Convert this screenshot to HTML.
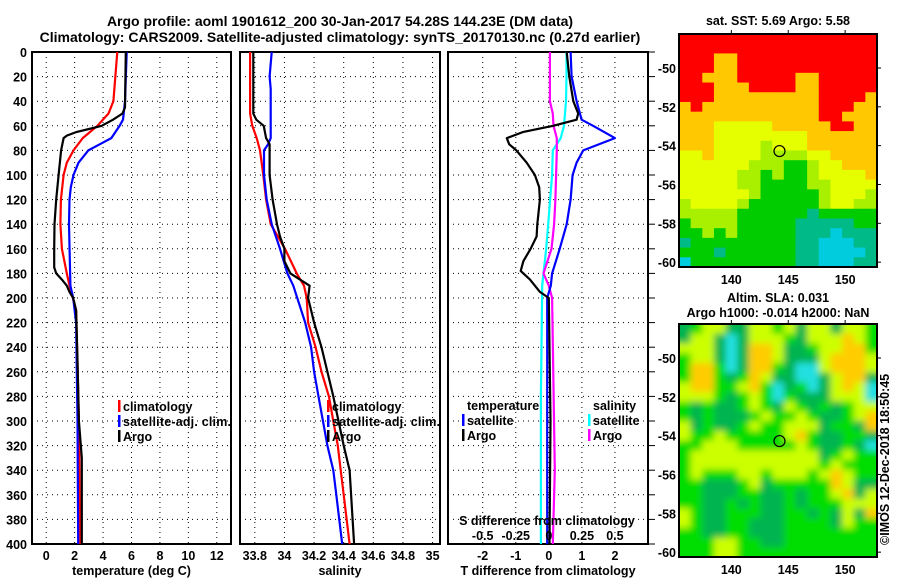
<!DOCTYPE html>
<html><head><meta charset="utf-8">
<style>
html,body{margin:0;padding:0;background:#fff;}
svg{display:block;font-family:"Liberation Sans",Arial,sans-serif;font-weight:bold;}
text{font-size:12.5px;fill:#000;}
.t{font-size:14px;}
.g{stroke:#000;stroke-width:1;stroke-dasharray:1,4;}
</style></head>
<body>
<svg id="chart" width="900" height="580" viewBox="0 0 900 580" xmlns="http://www.w3.org/2000/svg">
<defs>
<filter id="blur" x="-5%" y="-5%" width="110%" height="110%"><feGaussianBlur stdDeviation="3.5"/></filter>
<clipPath id="slaclip"><rect x="679" y="324" width="198" height="233"/></clipPath>
</defs>
<text class="t" x="340" y="26" text-anchor="middle">Argo profile: aoml 1901612_200 30-Jan-2017 54.28S 144.23E (DM data)</text>
<text class="t" x="340" y="42" text-anchor="middle">Climatology: CARS2009. Satellite-adjusted climatology: synTS_20170130.nc (0.27d earlier)</text>
<g id="p1"></g>
<g id="p2"></g>
<g id="p3"></g>
<g id="m1"></g>
<g id="m2"></g>
<text x="889" y="545" transform="rotate(-90 889 545)">©IMOS 12-Dec-2018 18:50:45</text>
</svg>
<script>
// ---- profile data (depth in m) ----
const tClimD=[0,40,50,60,70,80,90,100,120,140,160,180,190,210,300,400];
const tClimV=[5.0,4.73,4.38,3.6,2.57,1.92,1.45,1.22,1.03,1.0,1.1,1.45,1.64,2.1,2.3,2.4];
const tSatD=[0,40,55,60,70,75,80,90,100,110,120,140,190,200,220,300,400];
const tSatV=[5.66,5.54,5.4,5.16,4.58,3.76,2.96,2.27,1.92,1.73,1.64,1.6,1.7,1.9,2.1,2.2,2.25];
const tArgoD=[0,45,50,55,60,63,65,68,70,80,100,120,140,160,175,180,185,190,195,200,210,250,300,330,400];
const tArgoV=[5.6,5.54,5.37,4.7,3.9,2.86,2.15,1.45,1.22,1.05,0.87,0.7,0.58,0.56,0.56,0.7,1.1,1.45,1.64,1.9,2.1,2.2,2.3,2.5,2.5];
const sClimD=[0,50,60,70,80,100,120,140,160,180,190,200,220,240,260,280,300,320,340,360,400];
const sClimV=[33.768,33.768,33.783,33.813,33.835,33.857,33.876,33.907,34.004,34.083,34.132,34.15,34.16,34.21,34.25,34.30,34.33,34.36,34.38,34.40,34.44];
const sSatD=[0,20,30,70,75,80,100,120,140,160,180,190,220,240,260,280,320,340,360,400];
const sSatV=[33.914,33.9,33.907,33.907,33.89,33.862,33.862,33.88,33.914,33.97,34.02,34.06,34.14,34.18,34.2,34.23,34.29,34.33,34.35,34.39];
const sArgoD=[0,50,55,60,70,75,100,120,140,150,160,170,180,190,200,220,240,260,280,320,340,360,400];
const sArgoV=[33.79,33.79,33.81,33.86,33.876,33.9,33.9,33.92,33.95,33.97,34.0,34.0,34.04,34.17,34.16,34.2,34.25,34.29,34.33,34.40,34.44,34.45,34.47];
const dTsatD=[0,20,40,55,60,70,80,90,100,120,140,160,180,190,200,400];
const dTsatV=[0.66,0.69,0.84,0.99,1.34,2.0,1.04,0.84,0.72,0.66,0.54,0.33,0.1,0.06,-0.05,-0.05];
const dTargoD=[0,20,40,50,55,60,65,70,75,80,90,100,110,120,140,150,160,170,178,185,195,200,300,400];
const dTargoV=[0.54,0.62,0.74,0.89,0.84,0.13,-0.77,-1.27,-1.2,-0.98,-0.67,-0.42,-0.29,-0.27,-0.35,-0.37,-0.55,-0.77,-0.85,-0.57,-0.27,0.0,0.05,0.02];
const dSargoD=[0,40,50,60,70,80,100,120,140,160,180,190,200,340,400];
const dSargoV=[0.008,0.008,0.03,0.035,0.06,0.06,0.055,0.05,0.04,0.02,-0.04,0.0,0.025,0.045,0.03];
const dSsatD=[0,20,40,60,70,80,100,120,140,160,180,190,280,400];
const dSsatV=[0.134,0.134,0.13,0.115,0.09,0.03,0.025,0.01,-0.005,-0.02,-0.04,-0.05,-0.06,-0.06];
const depthTicks=[0,20,40,60,80,100,120,140,160,180,200,220,240,260,280,300,320,340,360,380,400];
const tTicks=[0,2,4,6,8,10,12];
const sTicks=[33.8,34,34.2,34.4,34.6,34.8,35];
const dTicks=[-2,-1,0,1,2];
const dSTickLabels=["-0.5","-0.25","0","0.25","0.5"];
// ---- map data ----
const latTicks=[-50,-52,-54,-56,-58,-60];
const lonTicks=[140,145,150];
const argoLon=144.23, argoLat=-54.28;
const sstGrid=[
"RRRRRRRRRRRRRRRRR","RRRRRRRRRRRRRRRRR","RRROORRRRRRRRRRRR","RRROORRRRRRRRRRRR",
"RROOORRRRROORRRRR","RRROOORRRROORRRRR","RRROOOOOOOOORRRRO","OROOOOOOOOOORRROO",
"OOOOOOOOOOOORROOO","OOOYYYYYOOOOORROO","OOOYYYYYYYYOOOOOO","OOOYYYYLYYYOOOOOO",
"YYOYYYYLLLLYYOOOO","YYYYYYLLLGGLYYOOO","YYYYYLLGLGGLYYYYO","YYYYYLLGGGGLLYYYY",
"YYYYYYLGGGGGLYYYL","LYYYYLGGGGGGLYYLL","LLLLLGGGGGGTGGGGG","GLLLLGGGGGTTTTTGG",
"GGLGLGGGGGTTTCTTT","TGGGGGGGGGTTCCCTT","GGGTGGGGGGTTCCCCT","CGGGGGGGGGTTCCCTT"];
const slaGrid=[
"DGYYDDYYGYDYYDYYG","DYYDCDYYYGDYYYOYG","YYYDCDOOYDDGYYOOG","GYYDCDOOYDDDYOOOY",
"GOOGCDOOGDCCYOOOY","GOOGDGOYDDCCDYOOD","YOOGGYOGCDGCDYOYC","YYYGDGYGCGDDDYYYC",
"GDGDDGYGDYGDGDGYY","GDGDDDGYGGYGDDGYO","YDGDDGYGGYYYDGGDO","YGGYGGGGGYOGDDGGD",
"GGYYYGGGGGYGDDGDC","GYYYYYYYYYYYDGYGG","GYYYYYYYYYYYGYGGG","GYGGGYYGYYYGYOYGG",
"GGDDDGYDGGGGGOYDD","GGDDDGGDDGDGGYODY","GGDDGDGDDGDGGGYYY","YGDDGGGDDGGDGDYDO",
"YGDDGGDDDGGGGDYGG","GGDDGGDDDGGGGGGGG","GGGYYGGDDGGGGGGGG","GGGYYGGGGGGGGGGGG"];
const sstColors={R:"#ff0000",O:"#ffc800",Y:"#e6ff00",L:"#a8f000",G:"#00cc00",T:"#00bb88",C:"#00ccdd"};
const slaColors={G:"#00dd00",D:"#00b450",C:"#20e0e0",Y:"#ccff00",O:"#ffcc00"};

const NS="http://www.w3.org/2000/svg";
function mk(parent,tag,attrs,txt){const e=document.createElementNS(NS,tag);for(const k in attrs)e.setAttribute(k,attrs[k]);if(txt!==undefined)e.textContent=txt;parent.appendChild(e);return e;}
const Y0=52,Y1=544;
const yD=d=>Y0+d*(Y1-Y0)/400;

function panel(g,x0,x1,xmin,xmax,ticks,tickLabels,xlabel,showY,rightTicks){
  const xs=v=>x0+(v-xmin)*(x1-x0)/(xmax-xmin);
  depthTicks.forEach(d=>{
    if(d>0&&d<400){const l=mk(g,'line',{x1:x0,x2:x1,y1:yD(d),y2:yD(d),class:'g'});
    
    }
    if(showY){const t=mk(g,'text',{x:x0-5,y:yD(d)+5,'text-anchor':'end'},d);
    
    }
    if(rightTicks){const l2=mk(g,'line',{x1:x1,x2:x1+7,y1:yD(d),y2:yD(d),stroke:'#000','stroke-width':1});
    
    }
  });
  ticks.forEach((v,i)=>{
    const l=mk(g,'line',{x1:xs(v),x2:xs(v),y1:Y0,y2:Y1,class:'g'});
    
    
    const t=mk(g,'text',{x:xs(v),y:Y1+16,'text-anchor':'middle'},tickLabels[i]);
    
    
  });
  const r=mk(g,'rect',{x:x0,y:Y0,width:x1-x0,height:Y1-Y0,fill:'none',stroke:'#000','stroke-width':2});
  
  
  const xl=mk(g,'text',{x:(x0+x1)/2,y:575,'text-anchor':'middle'},xlabel);
  
  
  return xs;
}
function line(g,xs,D,V,color,name,scale){
  const pts=D.map((d,i)=>xs(V[i]*(scale||1)).toFixed(1)+','+yD(d).toFixed(1)).join(' ');
  const p=mk(g,'polyline',{points:pts,fill:'none',stroke:color,'stroke-width':2.2,'stroke-linejoin':'round'});
  
  
}
function legend(g,x,y,items){
  items.forEach((it,i)=>{
    if(it[1]){const b=mk(g,'rect',{x:x,y:y+i*15-11,width:2.5,height:12,fill:it[1]});
    
    }
    const t=mk(g,'text',{x:x+5,y:y+i*15,textLength:it[2]||null},it[0]);
    if(!it[2])t.removeAttribute('textLength');
    
    
  });
}
const p1=document.getElementById('p1'),p2=document.getElementById('p2'),p3=document.getElementById('p3');
const x1s=panel(p1,32,231,-1,13,tTicks,tTicks,'temperature (deg C)',true,false);
line(p1,x1s,tClimD,tClimV,'#f00','climatology-temperature-line');
line(p1,x1s,tSatD,tSatV,'#00f','satellite-temperature-line');
line(p1,x1s,tArgoD,tArgoV,'#000','argo-temperature-line');
legend(p1,118,411,[['climatology','#f00'],['satellite-adj. clim.','#00f',108],['Argo','#000']]);
const x2s=panel(p2,240,440,33.7,35.05,sTicks,sTicks,'salinity',false,false);
line(p2,x2s,sClimD,sClimV,'#f00','climatology-salinity-line');
line(p2,x2s,sSatD,sSatV,'#00f','satellite-salinity-line');
line(p2,x2s,sArgoD,sArgoV,'#000','argo-salinity-line');
legend(p2,327,411,[['climatology','#f00'],['satellite-adj. clim.','#00f',108],['Argo','#000']]);
const x3s=panel(p3,448,648,-3.05,3,dTicks,dTicks,'T difference from climatology',false,true);
line(p3,x3s,dSsatD,dSsatV,'#0ff','satellite-salinity-diff-line',4);
line(p3,x3s,dSargoD,dSargoV,'#f0f','argo-salinity-diff-line',4);
line(p3,x3s,dTsatD,dTsatV,'#00f','satellite-temperature-diff-line');
line(p3,x3s,dTargoD,dTargoV,'#000','argo-temperature-diff-line');
legend(p3,462,410,[['temperature',null],['satellite','#00f'],['Argo','#000']]);
legend(p3,588,410,[['salinity',null],['satellite','#0ff'],['Argo','#f0f']]);
const sdt=mk(p3,'text',{x:547,y:525,'text-anchor':'middle'},'S difference from climatology');


dTicks.forEach((v,i)=>{const t=mk(p3,'text',{x:x3s(v),y:540,'text-anchor':'middle'},dSTickLabels[i]);

});

function map(g,top,grid,colors,titles,name,smooth){
  const L=679,R=877,B=top+233,lonMin=135.4,lonMax=152.8,latTop=-48.25,latBot=-60.25;
  const xs=lo=>L+(lo-lonMin)*(R-L)/(lonMax-lonMin);
  const ys=la=>top+(latTop-la)*(B-top)/(latTop-latBot);
  const rows=grid.length,cols=grid[0].length,cw=(R-L)/cols,ch=(B-top)/rows;
  let cg=g;
  if(smooth){const outer=mk(g,'g',{'clip-path':'url(#slaclip)'});cg=mk(outer,'g',{filter:'url(#blur)'});}
  grid.forEach((row,r)=>{for(let c=0;c<cols;c++){
    const ext=smooth?6:0;
    const x=L+c*cw-(c===0?ext:0), y=top+r*ch-(r===0?ext:0);
    const w=cw+0.6+(c===0?ext:0)+(c===cols-1?ext:0), h=ch+0.6+(r===0?ext:0)+(r===rows-1?ext:0);
    const cell=mk(cg,'rect',{x:x.toFixed(2),y:y.toFixed(2),width:w.toFixed(2),height:h.toFixed(2),fill:colors[row[c]]});
    
    
  }});
  const fr=mk(g,'rect',{x:L,y:top,width:R-L,height:B-top,fill:'none',stroke:'#000','stroke-width':2});
  
  
  latTicks.forEach(la=>{
    mk(g,'line',{x1:R,x2:R+4,y1:ys(la),y2:ys(la),stroke:'#000'});
    const t=mk(g,'text',{x:L-3,y:ys(la)+5,'text-anchor':'end'},la);
    
    
  });
  lonTicks.forEach(lo=>{
    mk(g,'line',{x1:xs(lo),x2:xs(lo),y1:top-4,y2:top,stroke:'#000'});
    const t=mk(g,'text',{x:xs(lo),y:B+17,'text-anchor':'middle'},lo);
    
    
  });
  const c=mk(g,'circle',{cx:xs(argoLon),cy:ys(argoLat),r:5.5,fill:'none',stroke:'#000','stroke-width':1.2});
  
  
  titles.forEach((tt,i)=>{const t=mk(g,'text',{x:778,y:tt[1],'text-anchor':'middle'},tt[0]);
  
  });
}
map(document.getElementById('m1'),34,sstGrid,sstColors,[['sat. SST: 5.69 Argo: 5.58',25]],'sst',false);
map(document.getElementById('m2'),324,slaGrid,slaColors,[['Altim. SLA: 0.031',302],['Argo h1000: -0.014 h2000: NaN',317]],'sla',true);
</script>
</body></html>
